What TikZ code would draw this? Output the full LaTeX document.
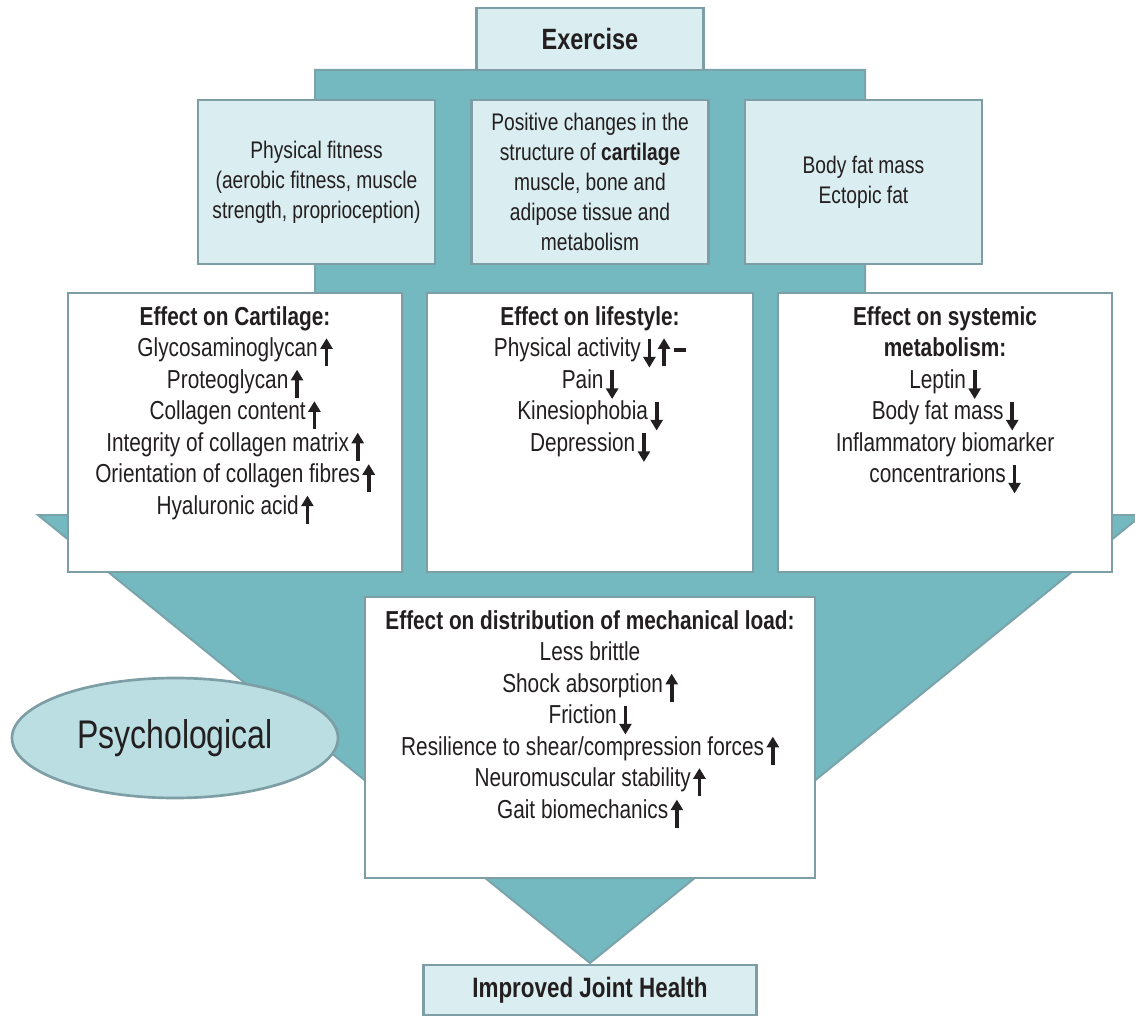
\documentclass[tikz,border=0pt]{standalone}
\usepackage{fontspec}
\setmainfont[FakeStretch=0.8]{Liberation Sans}
\usetikzlibrary{arrows.meta,shapes,positioning}
\definecolor{trunk}{RGB}{116,185,191}
\definecolor{trunkline}{RGB}{122,163,171}
\definecolor{boxline}{RGB}{126,158,166}
\definecolor{boxfill}{RGB}{218,237,240}
\definecolor{ovalfill}{RGB}{186,222,226}
\definecolor{ink}{RGB}{35,31,32}

\newcommand{\arrowup}{\hspace{2pt}\smash{\tikz[baseline=0pt]\draw[ink,line width=2.8pt,-{Triangle[length=8pt,width=9pt]}] (0pt,-7pt) -- (0pt,14pt);}}
\newcommand{\arrowdn}{\hspace{2pt}\smash{\tikz[baseline=0pt]\draw[ink,line width=2.8pt,-{Triangle[length=8pt,width=9pt]}] (0pt,13.5pt) -- (0pt,-8pt);}}
\newcommand{\flatbar}{\hspace{3pt}\tikz[baseline=0pt]\fill[ink] (0pt,3.5pt) rectangle (9pt,7pt);}

\tikzset{
  trunkshape/.style={fill=trunk,draw=trunkline,line width=1.5pt},
  headbox/.style={draw=boxline,line width=2pt,fill=boxfill,minimum width=170pt,minimum height=46.5pt,font=\fontsize{22pt}{26pt}\selectfont,text=ink},
  topbox/.style={draw=boxline,line width=2pt,fill=boxfill,minimum width=177.75pt,minimum height=123pt,align=center,font=\fontsize{18pt}{22.5pt}\selectfont,text=ink},
  effectbox/.style={draw=boxline,line width=2pt,fill=white,minimum width=250.5pt,minimum height=209.25pt},
  listtext/.style={inner sep=0pt,align=center,font=\fontsize{19.5pt}{23.6pt}\selectfont,text=ink},
  footbox/.style={headbox,minimum width=250pt,minimum height=37.5pt,font=\fontsize{21pt}{25pt}\selectfont},
  psychoval/.style={ellipse,draw=boxline,line width=2pt,fill=ovalfill,minimum width=244.5pt,minimum height=90pt,font=\fontsize{30pt}{36pt}\selectfont,text=ink}
}

\begin{document}
\begin{tikzpicture}[x=0.75pt,y=-0.75pt]
  \useasboundingbox (0,0) rectangle (1135,1016);

  % Teal trunk
  \begin{scope}
    \clip (0,0) rectangle (1135,1016);
    \draw[trunkshape] (315,70) -- (865,70) -- (865,515) -- (1142,515) -- (590,963) -- (38,515) -- (315,515) -- cycle;
  \end{scope}

  % Exercise
  \node[headbox] (exercise) at (590,39) {\textbf{Exercise}};

  % Top row
  \node[topbox] (fitness) at (316.5,182) {Physical fitness\\(aerobic fitness, muscle\\strength, proprioception)};
  \node[topbox] (structure) at (590,182) {Positive changes in the\\structure of \textbf{cartilage}\\muscle, bone and\\adipose tissue and\\metabolism};
  \node[topbox] (fatmass) at (863.5,182) {Body fat mass\\Ectopic fat};

  % Effect on cartilage
  \node[effectbox] (cartbox) at (235,432.5) {};
  \node[listtext, below=11pt of cartbox.north] (carttext) {\textbf{Effect on Cartilage:}\\
    Glycosaminoglycan\arrowup\\
    Proteoglycan\arrowup\\
    Collagen content\arrowup\\
    Integrity of collagen matrix\arrowup\\
    Orientation of collagen fibres\arrowup\\
    Hyaluronic acid\arrowup};

  % Effect on lifestyle
  \node[effectbox, minimum width=244.5pt] (lifebox) at (590,432.5) {};
  \node[listtext, below=11pt of lifebox.north] (lifetext) {\textbf{Effect on lifestyle:}\\
    Physical activity\arrowdn\arrowup\flatbar\\
    Pain\arrowdn\\
    Kinesiophobia\arrowdn\\
    Depression\arrowdn};

  % Effect on systemic metabolism
  \node[effectbox] (metabox) at (945,432.5) {};
  \node[listtext, below=11pt of metabox.north] (metatext) {\textbf{Effect on systemic}\\
    \textbf{metabolism:}\\
    Leptin\arrowdn\\
    Body fat mass\arrowdn\\
    Inflammatory biomarker\\
    concentrarions\arrowdn};

  % Effect on mechanical load
  \node[effectbox, minimum width=337.5pt, minimum height=210.75pt] (loadbox) at (590,737.5) {};
  \node[listtext, below=11pt of loadbox.north] (loadtext) {\textbf{Effect on distribution of mechanical load:}\\
    Less brittle\\
    Shock absorption\arrowup\\
    Friction\arrowdn\\
    Resilience to shear/compression forces\arrowup\\
    Neuromuscular stability\arrowup\\
    Gait biomechanics\arrowup};

  % Psychological
  \node[psychoval] (psych) at (175,738) {Psychological};

  % Improved joint health
  \node[footbox] (joint) at (590,990) {\textbf{Improved Joint Health}};
\end{tikzpicture}
\end{document}
